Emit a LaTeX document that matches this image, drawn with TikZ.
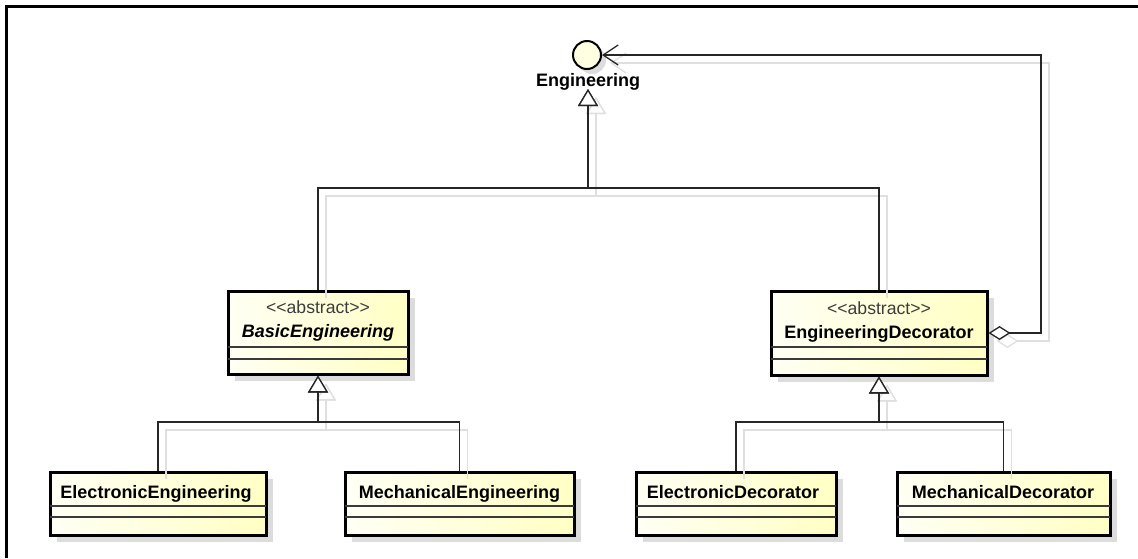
\documentclass[tikz,border=0pt]{standalone}
\usepackage{fontspec}
\setmainfont{Liberation Sans}
\usetikzlibrary{arrows.meta,shadows}
\definecolor{boxl}{HTML}{FFFFF4}
\definecolor{boxr}{HTML}{FFFFC4}
\definecolor{shad}{HTML}{DCDCDC}
\definecolor{lshad}{HTML}{DFDFDF}
\definecolor{lin}{HTML}{262626}
\definecolor{sepc}{HTML}{3A3A3A}
\definecolor{stc}{HTML}{3C3C3C}
\newcommand\umlconnectors{%
  \draw[gen] (be.north) |- (588,188) -- (engtip);
  \draw[gen] (ed.north) |- (588,188) -- (engtip);
  \draw[gen] (ee.north) |- (318,422) -- (be.south);
  \draw[gen] (me.north) |- (318,422) -- (be.south);
  \draw[gen] (edc.north) |- (879,422) -- (ed.south);
  \draw[gen] (md.north) |- (879,422) -- (ed.south);
  \draw[agg] (ed.east |- 0,333) -- (1041,333) |- (eng.east);
}
\begin{document}
\begin{tikzpicture}[x=1pt,y=-1pt,
  classbox/.style={draw=black, line width=3pt, left color=boxl, right color=boxr,
    inner sep=0pt, general shadow={fill=shad, shadow xshift=7pt, shadow yshift=-7pt}},
  ifacecirc/.style={circle, draw=black, line width=2pt, fill=boxl!60!boxr, inner sep=0pt,
    minimum size=28pt, general shadow={fill=shad, shadow xshift=5pt, shadow yshift=-5pt}},
  nm/.style={anchor=base, inner sep=0pt, font=\fontsize{18}{20}\selectfont\bfseries},
  st/.style={anchor=base, inner sep=0pt, text=stc, font=\fontsize{17.6}{20}\selectfont},
  sepline/.style={draw=sepc, line width=1.2pt},
  gen/.style={draw=lin, line width=1.3pt,
    -{Triangle[fill=white, length=17pt, width=20pt, line width=1.3pt]}},
  agg/.style={draw=lin, line width=1.3pt,
    {Diamond[fill=white, length=22pt, width=14pt, line width=1.3pt]}-{Straight Barb[length=15pt, width=20pt, line width=1.3pt]}},
  shadowlines/.style={gen/.append style={draw=lshad}, agg/.append style={draw=lshad}}
]
\useasboundingbox (0,0) rectangle (1138,558);
% frame
\draw[line width=3pt, black] (6.5,558) -- (6.5,6.5) -- (1138,6.5);

% interface
\node[ifacecirc] (eng) at (587,55) {};
\node[nm] (englbl) at (588,86) {Engineering};
\coordinate (engtip) at (588,89);

% classes
\node[classbox, minimum width=180pt, minimum height=83pt] (be) at (318,332.5) {};
\node[classbox, minimum width=216pt, minimum height=84pt] (ed) at (879,333) {};
\node[classbox, minimum width=216pt, minimum height=63pt] (ee) at (158,503.5) {};
\node[classbox, minimum width=229pt, minimum height=63pt] (me) at (459.5,503.5) {};
\node[classbox, minimum width=200pt, minimum height=63pt] (edc) at (736,503.5) {};
\node[classbox, minimum width=213pt, minimum height=63pt] (md) at (1003.5,503.5) {};

% compartments
\foreach \b/\ya/\yb in {be/347/359, ed/347/359, ee/506/517, me/506/517, edc/506/517, md/506/517}{
  \draw[sepline] ([xshift=1.5pt]\b.west |- 0,\ya) -- ([xshift=-1.5pt]\b.east |- 0,\ya);
  \draw[sepline] ([xshift=1.5pt]\b.west |- 0,\yb) -- ([xshift=-1.5pt]\b.east |- 0,\yb);
}

% texts
\node[st] (best) at (318,313) {{<}{<}abstract{>}{>}};
\node[nm] (bename) at (318,337) {\itshape BasicEngineering};
\node[st] (edst) at (879,314) {{<}{<}abstract{>}{>}};
\node[nm] (edname) at (879,338) {EngineeringDecorator};
\node[nm] (eename) at (156,498) {ElectronicEngineering};
\node[nm] (mename) at (459.5,498) {MechanicalEngineering};
\node[nm] (edcname) at (733,498) {ElectronicDecorator};
\node[nm] (mdname) at (1003,498) {MechanicalDecorator};

% connector shadows
\begin{scope}[transform canvas={shift={(8,8)}}, shadowlines]
  \umlconnectors
\end{scope}
% connectors
\umlconnectors
\end{tikzpicture}
\end{document}
